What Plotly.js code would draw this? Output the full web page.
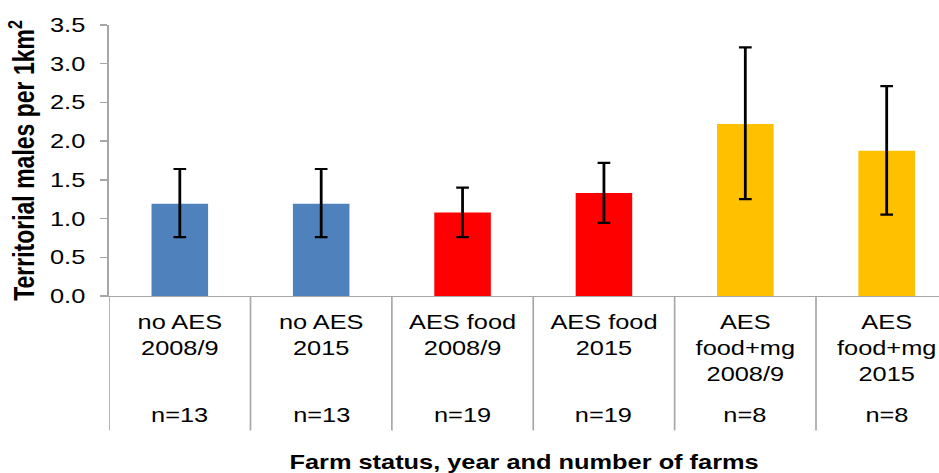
<!DOCTYPE html>
<html>
<head>
<meta charset="utf-8">
<script src="https://cdn.plot.ly/plotly-3.0.1.min.js"></script>
<style>
html, body { margin: 0; padding: 0; background: #ffffff; width: 939px; height: 473px; overflow: hidden; }
#chart { width: 740px; height: 473px; transform: scaleX(1.26892); transform-origin: 0 0; }
</style>
</head>
<body>
<div id="chart"></div>
<script>
// Data
const categories = ["no AES<br>2008/9", "no AES<br>2015", "AES food<br>2008/9", "AES food<br>2015", "AES<br>food+mg<br>2008/9", "AES<br>food+mg<br>2015"];
const nLabels = ["n=13", "n=13", "n=19", "n=19", "n=8", "n=8"];
const meanDensity = [1.19, 1.19, 1.08, 1.33, 2.22, 1.875];
const upperBound = [1.64, 1.64, 1.40, 1.72, 3.21, 2.71];
const lowerBound = [0.76, 0.76, 0.76, 0.945, 1.25, 1.05];
const barColors = ["#4F81BD", "#4F81BD", "#FF0000", "#FF0000", "#FFC000", "#FFC000"];
const yTickValues = [0, 0.5, 1.0, 1.5, 2.0, 2.5, 3.0, 3.5];

const FONT = "Liberation Sans, Arial, sans-serif";
const AXIS_GREY = "#A6A6A6";

const errPlus = upperBound.map((u, i) => u - meanDensity[i]);
const errMinus = lowerBound.map((l, i) => meanDensity[i] - l);

const trace = {
  type: "bar",
  x: categories,
  y: meanDensity,
  width: 0.4,
  marker: { color: barColors, line: { width: 0 } },
  error_y: {
    type: "data",
    symmetric: false,
    array: errPlus,
    arrayminus: errMinus,
    color: "#000000",
    thickness: 2.2,
    width: 5
  },
  hoverinfo: "x+y"
};

// category divider lines below the axis (Excel-style)
const shapes = [];
for (let i = 0; i <= categories.length; i++) {
  shapes.push({
    type: "line", xref: "x", yref: "paper",
    x0: i - 0.5, x1: i - 0.5, y0: 0, y1: -0.496,
    line: { color: AXIS_GREY, width: 1.3 }
  });
}

const annotations = categories.map((c, i) => ({
  xref: "x", yref: "paper",
  x: c, y: -0.439,
  text: nLabels[i],
  showarrow: false,
  xanchor: "center", yanchor: "middle",
  font: { family: FONT, size: 20, color: "#000000" }
}));

const layout = {
  width: 740,
  height: 473,
  margin: { l: 86, r: 0, t: 25, b: 177 },
  paper_bgcolor: "#ffffff",
  plot_bgcolor: "#ffffff",
  showlegend: false,
  bargap: 0.6,
  xaxis: {
    type: "category",
    range: [-0.5, 5.37],
    showline: true,
    linecolor: AXIS_GREY,
    linewidth: 1.3,
    ticks: "",
    showgrid: false,
    zeroline: false,
    tickfont: { family: FONT, size: 20, color: "#000000" },
    ticklabelstandoff: 8,
    title: {
      text: "Farm status, year and number of farms",
      font: { family: FONT, size: 20, color: "#000000", weight: "bold" },
      standoff: 72
    }
  },
  yaxis: {
    range: [0, 3.5],
    tickvals: yTickValues,
    tickformat: ".1f",
    ticks: "outside",
    ticklen: 5.5,
    tickwidth: 1.3,
    tickcolor: AXIS_GREY,
    showline: true,
    linecolor: AXIS_GREY,
    linewidth: 1.3,
    showgrid: false,
    zeroline: false,
    tickfont: { family: FONT, size: 20, color: "#000000" },
    ticklabelstandoff: 8,
    title: {
      text: "Territorial males per 1km<sup>2</sup>",
      font: { family: FONT, size: 23, color: "#000000", weight: "bold" },
      standoff: 5
    }
  },
  shapes: shapes,
  annotations: annotations
};

Plotly.newPlot("chart", [trace], layout, { displayModeBar: false, staticPlot: true });
</script>
</body>
</html>
